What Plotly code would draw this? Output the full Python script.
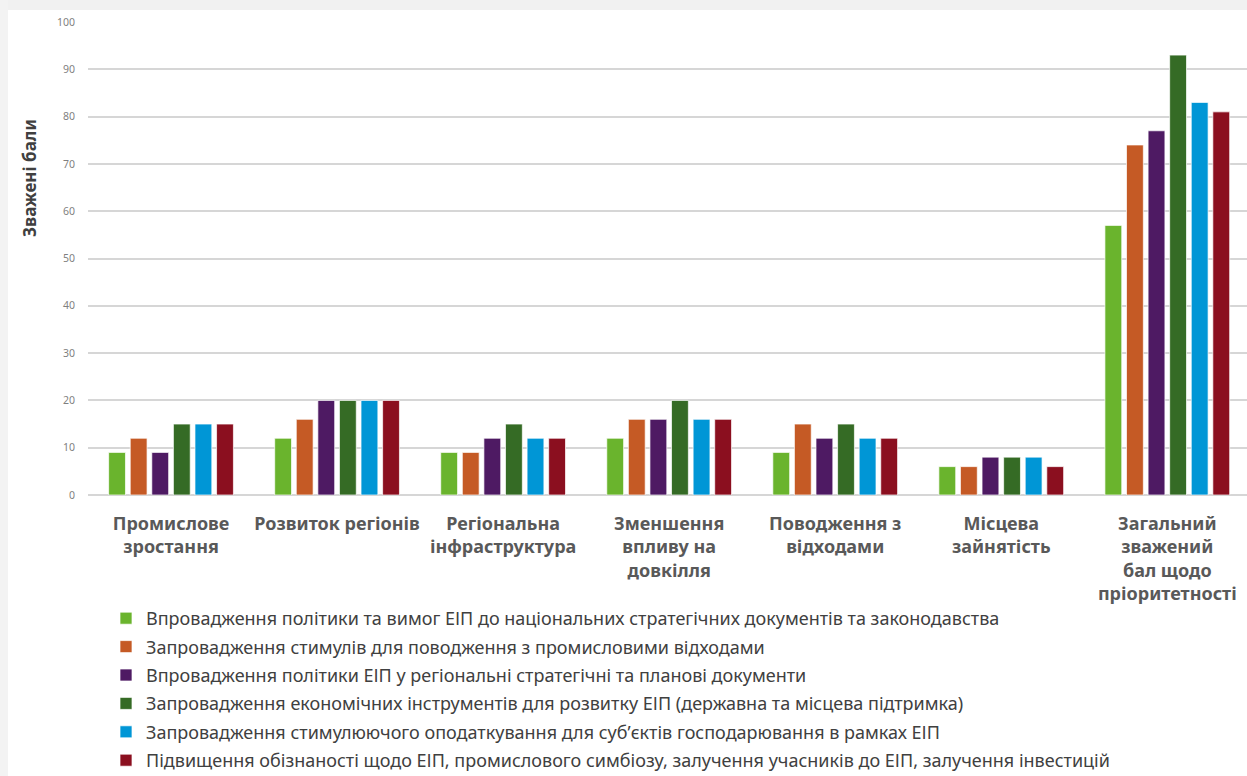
import plotly.graph_objects as go

# Categories (x axis), multi-line labels
categories = [
    "Промислове<br>зростання",
    "Розвиток регіонів",
    "Регіональна<br>інфраструктура",
    "Зменшення<br>впливу на<br>довкілля",
    "Поводження з<br>відходами",
    "Місцева<br>зайнятість",
    "Загальний<br>зважений<br>бал щодо<br>пріоритетності",
]

series_names = [
    "Впровадження політики та вимог ЕІП до національних стратегічних документів та законодавства",
    "Запровадження стимулів для поводження з промисловими відходами",
    "Впровадження політики ЕІП у регіональні стратегічні та планові документи",
    "Запровадження економічних інструментів для розвитку ЕІП (державна та місцева підтримка)",
    "Запровадження стимулюючого оподаткування для суб’єктів господарювання в рамках ЕІП",
    "Підвищення обізнаності щодо ЕІП, промислового симбіозу, залучення учасників до ЕІП, залучення інвестицій",
]

policy_national = [9, 12, 9, 12, 9, 6, 57]
waste_incentives = [12, 16, 9, 16, 15, 6, 74]
policy_regional = [9, 20, 12, 16, 12, 8, 77]
economic_tools = [15, 20, 15, 20, 15, 8, 93]
tax_incentives = [15, 20, 12, 16, 12, 8, 83]
awareness = [15, 20, 12, 16, 12, 6, 81]

series_values = [policy_national, waste_incentives, policy_regional,
                 economic_tools, tax_incentives, awareness]
colors = ["#6AB42D", "#C55A25", "#4E1A63", "#356B25", "#0096D6", "#8B0F1F"]

y_ticks = [0, 10, 20, 30, 40, 50, 60, 70, 80, 90, 100]

W, H = 1247, 776
ML, MR, MT, MB = 88, 0, 22, 281
PW, PH = W - ML - MR, H - MT - MB


def px_x(p):
    return (p - ML) / PW


def px_y(p):
    return (H - MB - p) / PH


fig = go.Figure()
for i, (name, vals, col) in enumerate(zip(series_names, series_values, colors)):
    fig.add_trace(go.Bar(
        x=categories, y=vals, name=name,
        marker=dict(color=col, line=dict(color="rgba(255,255,255,0.7)", width=1)),
        legendgroup=f"g{i}",
    ))

font_main = "Noto Sans, Open Sans, sans-serif"

fig.update_layout(
    width=W, height=H,
    margin=dict(l=ML, r=MR, t=MT, b=MB, autoexpand=False),
    paper_bgcolor="white", plot_bgcolor="white",
    barmode="group", bargap=0.22, bargroupgap=0.22,
    showlegend=True,
    legend=dict(
        x=px_x(106), y=px_y(600), xanchor="left", yanchor="top",
        font=dict(family=font_main, size=18, color="#404040"),
        tracegroupgap=2, itemwidth=30, bgcolor="rgba(0,0,0,0)",
    ),
    xaxis=dict(
        range=[-0.5, 6.48],
        tickfont=dict(family=font_main, size=18, color="#595959", weight="bold"),
        showgrid=False, zeroline=False, showline=False,
        ticks="", ticklabelstandoff=16,
    ),
    yaxis=dict(
        range=[0, 100], tickvals=y_ticks,
        tickfont=dict(family=font_main, size=10.5, color="#7f7f7f"),
        showgrid=True, gridcolor="#d6d6d6", gridwidth=1.5,
        zeroline=True, zerolinecolor="#d6d6d6", zerolinewidth=1.5,
        showline=False, ticks="", ticklabelstandoff=12,
    ),
    annotations=[dict(
        text="Зважені бали", textangle=-90,
        xref="paper", yref="paper", x=px_x(30), y=px_y(178),
        xanchor="center", yanchor="middle", showarrow=False,
        font=dict(family=font_main, size=17, color="#404040", weight="bold"),
    )],
    shapes=[
        # soft frame along the top and left edges of the card
        dict(type="rect", xref="paper", yref="paper", layer="below",
             x0=px_x(0), x1=px_x(W), y0=px_y(10), y1=px_y(0),
             fillcolor="#f1f1f1", line=dict(width=0)),
        dict(type="rect", xref="paper", yref="paper", layer="below",
             x0=px_x(0), x1=px_x(8), y0=px_y(H), y1=px_y(0),
             fillcolor="#f3f3f3", line=dict(width=0)),
    ],
)

fig.write_html("out.html")
